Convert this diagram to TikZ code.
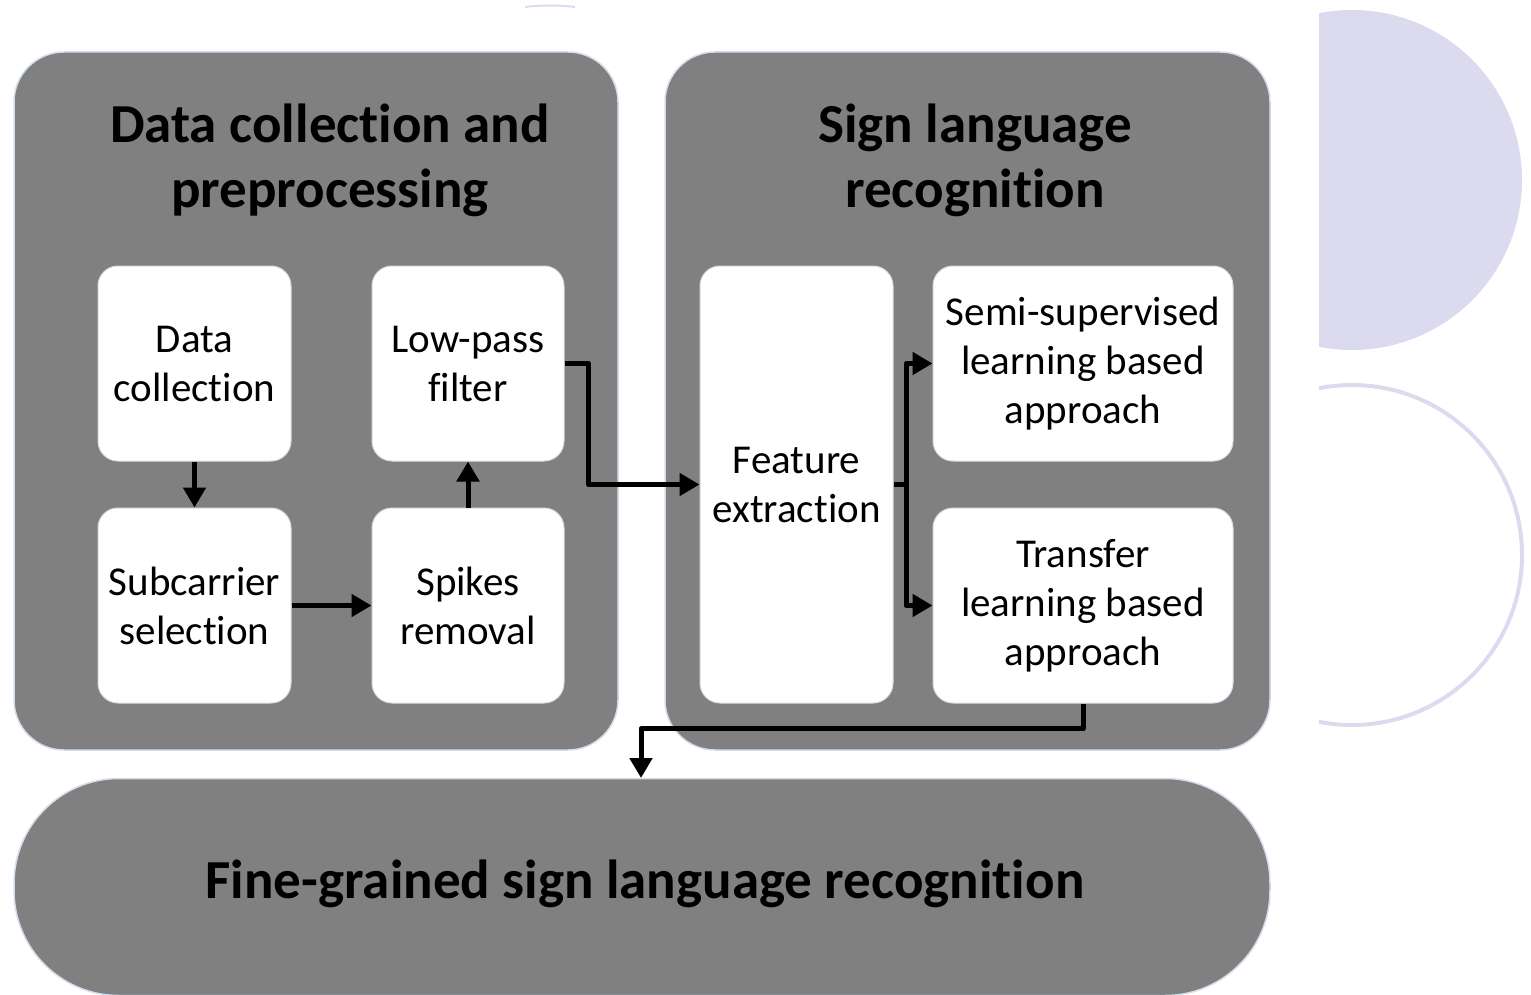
\documentclass[tikz,border=0pt]{standalone}
\usepackage{fontspec}
\setmainfont{Carlito}[Ligatures={NoCommon}]
\usetikzlibrary{arrows.meta}
\definecolor{panelgray}{HTML}{808080}
\definecolor{lav}{HTML}{DCDAEE}
\definecolor{glow}{HTML}{D3DEEC}
\begin{document}
\begin{tikzpicture}[x=1pt,y=-1pt,
  panel/.style={fill=panelgray, draw=glow, line width=1.5pt, rounded corners=50pt, inner sep=0pt},
  box/.style={fill=white, draw=glow, line width=1pt, rounded corners=20pt, inner sep=0pt, align=center, font=\fontsize{41}{49}\selectfont},
  title/.style={align=center, inner sep=0pt, font=\bfseries\fontsize{55}{65}\selectfont},
  conn/.style={line width=5pt, line join=round},
  arr/.style={conn, -{Triangle[length=20pt,width=22pt]}}
]
\useasboundingbox (0,0) rectangle (1531,995);
% decorations
\begin{scope}
  \clip (1319,0) rectangle (1531,995);
  \fill[lav] (1352,180) circle (170pt);
  \draw[lav, line width=4pt] (1352,555) circle (170pt);
\end{scope}
\draw[lav, line width=2pt] (525,7) .. controls (540,5) and (560,5) .. (575,7);
% panels
\node[panel, minimum width=604pt, minimum height=698pt] (pl) at (316,401) {};
\node[panel, minimum width=605pt, minimum height=698pt] (pr) at (967.5,401) {};
\begin{scope}
  \clip (0,0) rectangle (1531,995);
  \node[panel, rounded corners=105pt, minimum width=1256pt, minimum height=217pt] (pb) at (642,887) {};
\end{scope}
% titles
\node[title] (tl1) at (330,160) {Data collection and\\preprocessing};
\node[title] (tl2) at (975,160) {Sign language\\recognition};
\node[title] (tl3) at (645,884) {Fine-grained sign language recognition};
% boxes
\node[box, minimum width=193pt, minimum height=195pt] (dc) at (194.5,363.5) {Data\\collection};
\node[box, minimum width=192pt, minimum height=195pt] (lp) at (468,363.5) {Low-pass\\filter};
\node[box, minimum width=193pt, minimum height=195pt] (sc) at (194.5,605.5) {Subcarrier\\selection};
\node[box, minimum width=192pt, minimum height=195pt] (sr) at (468,605.5) {Spikes\\removal};
\node[box, minimum width=193pt, minimum height=437pt] (fe) at (796.5,484.5) {Feature\\extraction};
\node[box, minimum width=300pt, minimum height=195pt] (ss) at (1083,363.5) {Semi-supervised\\learning based\\approach};
\node[box, minimum width=300pt, minimum height=195pt] (tr) at (1083,605.5) {Transfer\\learning based\\approach};
% connectors
\draw[arr] (dc.south) -- (sc.north);
\draw[arr] (sc.east) -- (sr.west);
\draw[arr] (sr.north) -- (lp.south);
\draw[arr] (lp.east) -- ++(24,0) |- (fe.west);
\coordinate (fork) at (906,484.5);
\draw[conn] (fe.east) -- (fork);
\draw[arr] (fork) |- (ss.west);
\draw[arr] (fork) |- (tr.west);
\coordinate (bt) at (641,778);
\draw[arr] (tr.south) -- ++(0,25) -| (bt);
\end{tikzpicture}
\end{document}
